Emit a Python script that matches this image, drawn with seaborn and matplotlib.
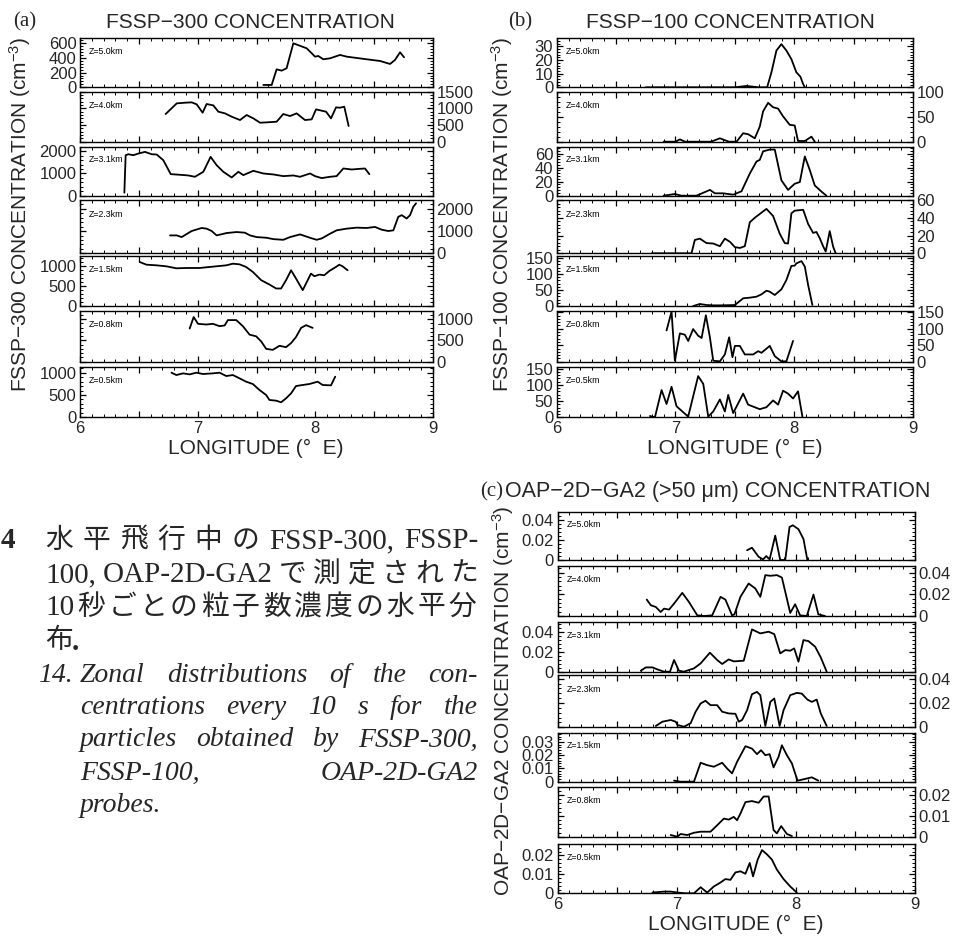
import numpy as np
import pandas as pd
import matplotlib
matplotlib.use("Agg")
import matplotlib.pyplot as plt
import seaborn as sns
from matplotlib.ticker import MultipleLocator, AutoMinorLocator, FixedLocator, FuncFormatter

# ---------------- data (longitude in deg E, concentration) ----------------
levels = ["Z=5.0km", "Z=4.0km", "Z=3.1km", "Z=2.3km", "Z=1.5km", "Z=0.8km", "Z=0.5km"]

# (a) FSSP-300 (cm^-3)
a_z50_lon = [7.558, 7.629, 7.671, 7.714, 7.756, 7.813, 7.926, 7.969, 7.997, 8.025, 8.068, 8.125, 8.210, 8.266, 8.436, 8.550, 8.635, 8.677, 8.720, 8.754]
a_z50_val = [32, 32, 245, 227, 260, 600, 532, 464, 418, 427, 382, 395, 441, 418, 382, 359, 318, 373, 477, 409]
a_z40_lon = [6.728, 6.822, 6.892, 6.949, 6.992, 7.042, 7.076, 7.133, 7.176, 7.232, 7.289, 7.360, 7.416, 7.473, 7.530, 7.586, 7.671, 7.728, 7.785, 7.841, 7.912, 7.969, 8.006, 8.054, 8.091, 8.133, 8.176, 8.210, 8.246, 8.283]
a_z40_val = [830, 1150, 1170, 1180, 1120, 870, 1130, 1090, 900, 850, 750, 650, 800, 700, 570, 580, 600, 830, 770, 850, 650, 670, 970, 930, 900, 700, 1030, 1020, 1050, 470]
a_z31_lon = [6.377, 6.388, 6.411, 6.453, 6.496, 6.552, 6.609, 6.652, 6.708, 6.771, 6.850, 6.921, 6.977, 7.048, 7.110, 7.161, 7.218, 7.289, 7.346, 7.388, 7.473, 7.558, 7.643, 7.728, 7.813, 7.870, 7.955, 7.997, 8.054, 8.125, 8.181, 8.238, 8.309, 8.380, 8.422, 8.459]
a_z31_val = [134, 1818, 1862, 1818, 1892, 1967, 1862, 1848, 1594, 968, 939, 909, 849, 1073, 1743, 1371, 1073, 819, 1073, 924, 1118, 998, 954, 879, 909, 849, 998, 879, 790, 849, 879, 1222, 1177, 1207, 1222, 968]
a_z23_lon = [6.765, 6.822, 6.864, 6.949, 7.034, 7.076, 7.119, 7.161, 7.246, 7.331, 7.402, 7.445, 7.501, 7.586, 7.643, 7.728, 7.785, 7.870, 7.955, 8.011, 8.054, 8.125, 8.181, 8.266, 8.351, 8.436, 8.507, 8.564, 8.620, 8.663, 8.705, 8.734, 8.776, 8.805, 8.833, 8.856]
a_z23_val = [806, 806, 730, 1003, 1140, 1110, 1003, 806, 912, 958, 927, 806, 730, 699, 638, 608, 730, 851, 699, 608, 669, 882, 1034, 1110, 1155, 1140, 1186, 1064, 1003, 1034, 1642, 1718, 1566, 1718, 2098, 2250]
a_z15_lon = [6.508, 6.565, 6.650, 6.734, 6.819, 6.904, 7.017, 7.158, 7.243, 7.299, 7.356, 7.412, 7.469, 7.540, 7.610, 7.667, 7.709, 7.751, 7.794, 7.836, 7.893, 7.963, 7.992, 8.034, 8.076, 8.119, 8.175, 8.203, 8.232, 8.274]
a_z15_val = [1108, 1041, 1025, 1000, 950, 958, 958, 1000, 1025, 1066, 1050, 983, 858, 650, 541, 441, 441, 650, 900, 691, 400, 816, 750, 791, 775, 883, 983, 1041, 1000, 900]
a_z08_lon = [6.932, 6.966, 7.003, 7.073, 7.130, 7.186, 7.229, 7.257, 7.328, 7.384, 7.441, 7.497, 7.540, 7.582, 7.638, 7.695, 7.751, 7.794, 7.836, 7.879, 7.921, 7.977]
a_z08_val = [778, 1048, 889, 873, 889, 834, 850, 977, 977, 834, 635, 596, 476, 302, 278, 373, 341, 437, 580, 794, 858, 794]
a_z05_lon = [6.777, 6.819, 6.876, 6.932, 6.989, 7.045, 7.130, 7.186, 7.243, 7.299, 7.356, 7.412, 7.469, 7.525, 7.582, 7.610, 7.667, 7.709, 7.751, 7.794, 7.836, 7.893, 7.949, 8.020, 8.062, 8.133, 8.169]
a_z05_val = [1000, 947, 985, 962, 1000, 970, 985, 1000, 925, 947, 873, 798, 746, 612, 500, 388, 373, 336, 425, 537, 701, 724, 746, 798, 724, 716, 910]

# (b) FSSP-100 (cm^-3)
b_z50_lon = [6.75, 7.5, 7.598, 7.70, 7.772, 7.808, 7.850, 7.892, 7.934, 7.976, 8.018, 8.052, 8.075, 8.089]
b_z50_val = [0, 0, 1, 0, 0, 11, 27, 31.7, 27, 20.7, 11, 7.8, 2.4, 0]
b_z40_lon = [6.9, 7.0, 7.037, 7.08, 7.30, 7.374, 7.45, 7.514, 7.570, 7.612, 7.668, 7.710, 7.738, 7.780, 7.822, 7.864, 7.906, 7.962, 8.004, 8.032, 8.089, 8.145, 8.173]
b_z40_val = [0, 0, 4.7, 0, 0, 6.8, 0, 0, 16.9, 14.9, 6.8, 30.4, 60.8, 77.7, 68.9, 66.2, 50.7, 33.8, 32.4, 1.4, 1.4, 10.1, 0]
b_z31_lon = [6.9, 6.995, 7.05, 7.177, 7.290, 7.332, 7.402, 7.486, 7.556, 7.626, 7.682, 7.710, 7.738, 7.794, 7.836, 7.892, 7.948, 8.004, 8.047, 8.089, 8.131, 8.173, 8.229, 8.271]
b_z31_val = [0, 2.4, 0, 0, 8.3, 3.4, 3.4, 1.5, 6.3, 31.7, 48.8, 51.2, 63.4, 65.9, 65.9, 22, 8.3, 17.1, 19.5, 56.1, 36.6, 14.6, 5.9, 0]
b_z23_lon = [6.8, 7.135, 7.163, 7.205, 7.262, 7.318, 7.374, 7.416, 7.458, 7.500, 7.542, 7.584, 7.626, 7.668, 7.766, 7.822, 7.878, 7.920, 7.948, 7.976, 8.004, 8.075, 8.117, 8.159, 8.187, 8.215, 8.243, 8.265, 8.299, 8.327, 8.349]
b_z23_val = [0, 0, 15, 16.5, 11.5, 11, 8, 16.5, 13, 7, 6, 8, 35, 40, 50, 42, 22, 11.5, 11, 45, 48, 49, 33, 23, 24, 17, 8, 2, 25, 7.7, 0]
b_z15_lon = [7.149, 7.205, 7.262, 7.318, 7.374, 7.500, 7.570, 7.626, 7.682, 7.724, 7.766, 7.794, 7.836, 7.892, 7.934, 7.976, 8.004, 8.018, 8.061, 8.089, 8.117, 8.153]
b_z15_val = [0, 6.2, 3.1, 2, 2, 3, 24, 26, 29, 36.4, 47.8, 44.7, 34.3, 52, 81, 125, 126, 133, 140, 123, 65.5, 3]
b_z08_lon = [6.925, 6.967, 6.995, 7.037, 7.079, 7.107, 7.149, 7.191, 7.220, 7.256, 7.290, 7.318, 7.374, 7.416, 7.452, 7.480, 7.500, 7.542, 7.584, 7.654, 7.696, 7.724, 7.794, 7.836, 7.892, 7.934, 7.990]
b_z08_val = [95, 152, 3, 86, 82, 63, 99, 79, 72, 141, 74, 3, 1, 22, 74, 13.5, 48, 48, 22, 22, 32, 27, 48, 17, 1, 1, 63]
b_z05_lon = [6.785, 6.827, 6.883, 6.925, 6.967, 7.009, 7.107, 7.191, 7.234, 7.276, 7.318, 7.374, 7.416, 7.444, 7.486, 7.570, 7.612, 7.710, 7.766, 7.822, 7.864, 7.906, 7.948, 7.990, 8.032, 8.069]
b_z05_val = [4, 0, 84, 41, 94, 34, 2, 127, 103, 2, 18, 55, 18, 69, 13, 73, 39, 25, 31, 52, 39, 82, 73, 58, 80, 2]

# (c) OAP-2D-GA2 >50 um (cm^-3)
c_z50_lon = [7.591, 7.632, 7.688, 7.724, 7.752, 7.780, 7.827, 7.869, 7.911, 7.947, 7.975, 8.022, 8.064, 8.097]
c_z50_val = [0.0097, 0.0122, 0.0032, 0.0006, 0.0039, 0.0006, 0.0242, 0.0, 0.0, 0.0328, 0.0345, 0.0306, 0.0209, 0.0]
c_z40_lon = [6.749, 6.783, 6.825, 6.866, 6.894, 6.936, 6.978, 7.047, 7.103, 7.173, 7.228, 7.298, 7.368, 7.409, 7.465, 7.485, 7.535, 7.604, 7.660, 7.702, 7.744, 7.786, 7.841, 7.883, 7.953, 7.994, 8.036, 8.092, 8.148, 8.189, 8.245]
c_z40_val = [0.0151, 0.0099, 0.0083, 0.0037, 0.0068, 0.0059, 0.0114, 0.0213, 0.0129, 0.0006, 0.0, 0.0006, 0.0176, 0.0151, 0.0006, 0.0015, 0.0176, 0.0299, 0.0253, 0.0176, 0.0376, 0.0370, 0.0376, 0.0354, 0.0028, 0.0108, 0.0006, 0.0, 0.0197, 0.0015, 0.0]
c_z31_lon = [6.699, 6.741, 6.797, 6.838, 6.894, 6.944, 6.978, 7.019, 7.061, 7.103, 7.145, 7.201, 7.279, 7.340, 7.382, 7.437, 7.479, 7.563, 7.632, 7.702, 7.772, 7.819, 7.869, 7.911, 7.953, 7.986, 8.022, 8.064, 8.106, 8.162, 8.209, 8.259]
c_z31_val = [0.001, 0.0043, 0.0043, 0.0023, 0.0, 0.0, 0.0117, 0.001, 0.0, 0.0017, 0.0033, 0.0083, 0.019, 0.0117, 0.0077, 0.0123, 0.0103, 0.011, 0.0423, 0.0383, 0.040, 0.0376, 0.0183, 0.0216, 0.021, 0.0233, 0.010, 0.0316, 0.0306, 0.025, 0.0143, 0.0]
c_z23_lon = [6.825, 6.880, 6.950, 6.992, 7.006, 7.061, 7.117, 7.159, 7.201, 7.242, 7.284, 7.340, 7.382, 7.437, 7.493, 7.521, 7.549, 7.591, 7.632, 7.674, 7.702, 7.744, 7.786, 7.819, 7.864, 7.897, 7.953, 8.008, 8.050, 8.097, 8.134, 8.175, 8.209, 8.259]
c_z23_val = [0.0011, 0.0046, 0.006, 0.0046, 0.0019, 0.0005, 0.0033, 0.0128, 0.0196, 0.0218, 0.0182, 0.0182, 0.0128, 0.0114, 0.0111, 0.0046, 0.006, 0.0141, 0.0272, 0.0291, 0.0264, 0.0011, 0.0209, 0.0237, 0.0011, 0.0141, 0.0264, 0.0283, 0.0277, 0.0228, 0.0209, 0.0228, 0.0114, 0.0011]
c_z15_lon = [6.978, 7.033, 7.145, 7.201, 7.256, 7.312, 7.382, 7.423, 7.465, 7.507, 7.577, 7.632, 7.674, 7.708, 7.744, 7.780, 7.813, 7.855, 7.883, 7.925, 7.967, 8.014, 8.064, 8.134, 8.189]
c_z15_val = [0.0008, 0.0, 0.0, 0.0143, 0.0125, 0.0113, 0.0143, 0.010, 0.0063, 0.015, 0.0268, 0.025, 0.0208, 0.0238, 0.020, 0.0208, 0.0108, 0.0188, 0.0275, 0.020, 0.0138, 0.0008, 0.0018, 0.0033, 0.0008]
c_z08_lon = [6.950, 7.006, 7.033, 7.089, 7.145, 7.201, 7.284, 7.340, 7.396, 7.437, 7.479, 7.507, 7.535, 7.577, 7.632, 7.688, 7.730, 7.772, 7.813, 7.841, 7.877, 7.925, 7.967]
c_z08_val = [0.0008, 0.0, 0.0013, 0.0008, 0.0019, 0.0024, 0.0024, 0.0055, 0.0087, 0.0082, 0.0095, 0.0079, 0.0111, 0.0166, 0.0171, 0.0163, 0.0193, 0.0193, 0.0032, 0.0016, 0.0051, 0.0013, 0.0003]
c_z05_lon = [6.797, 6.894, 6.950, 7.006, 7.075, 7.145, 7.201, 7.256, 7.312, 7.368, 7.409, 7.451, 7.493, 7.535, 7.577, 7.613, 7.641, 7.680, 7.716, 7.758, 7.799, 7.841, 7.897, 7.953, 8.008]
c_z05_val = [0.0004, 0.0009, 0.0009, 0.0004, 0.0, 0.0, 0.0032, 0.0004, 0.0036, 0.0057, 0.0075, 0.0071, 0.011, 0.0116, 0.0103, 0.016, 0.0089, 0.0178, 0.0228, 0.0205, 0.0178, 0.0125, 0.0075, 0.0036, 0.0004]

# y-axis tick labels per row
a_yticks = [[0, 200, 400, 600], [0, 500, 1000, 1500], [0, 1000, 2000], [0, 1000, 2000],
            [0, 500, 1000], [0, 500, 1000], [0, 500, 1000]]
b_yticks = [[0, 10, 20, 30], [0, 50, 100], [0, 20, 40, 60], [0, 20, 40, 60],
            [0, 50, 100, 150], [0, 50, 100, 150], [0, 50, 100, 150]]
c_yticks = [[0, 0.02, 0.04], [0, 0.02, 0.04], [0, 0.02, 0.04], [0, 0.02, 0.04],
            [0, 0.01, 0.02, 0.03], [0, 0.01, 0.02], [0, 0.01, 0.02]]
x_ticklabels = [6, 7, 8, 9]

a_series = [(a_z50_lon, a_z50_val), (a_z40_lon, a_z40_val), (a_z31_lon, a_z31_val), (a_z23_lon, a_z23_val),
            (a_z15_lon, a_z15_val), (a_z08_lon, a_z08_val), (a_z05_lon, a_z05_val)]
b_series = [(b_z50_lon, b_z50_val), (b_z40_lon, b_z40_val), (b_z31_lon, b_z31_val), (b_z23_lon, b_z23_val),
            (b_z15_lon, b_z15_val), (b_z08_lon, b_z08_val), (b_z05_lon, b_z05_val)]
c_series = [(c_z50_lon, c_z50_val), (c_z40_lon, c_z40_val), (c_z31_lon, c_z31_val), (c_z23_lon, c_z23_val),
            (c_z15_lon, c_z15_val), (c_z08_lon, c_z08_val), (c_z05_lon, c_z05_val)]

# ---------------- style / layout ----------------
sns.set_style("white")
plt.rcParams['font.family'] = ['Liberation Sans', 'DejaVu Sans']
plt.rcParams['mathtext.default'] = 'regular'

W, H = 955, 936
fig = plt.figure(figsize=(W / 100, H / 100), dpi=100)
fig.patch.set_facecolor('white')

a_ylims = [668, 1500, 2200, 2400, 1260, 1190, 1134]
b_ylims = [36, 100, 70, 60, 156, 154, 156]
c_ylims = [0.048, 0.046, 0.05, 0.043, 0.037, 0.024, 0.026]

ab_tops = [38.3, 91.7, 146.7, 200.0, 256.0, 311.0, 366.7]
ab_bots = [87.3, 141.7, 195.7, 253.3, 306.0, 361.7, 417.3]
c_tops = [511.7, 566.0, 621.7, 675.0, 732.7, 786.7, 844.0]
c_bots = [560.0, 616.0, 671.7, 727.3, 781.7, 836.7, 893.3]

TICK_FS = 12


def fmt_y(v, pos=None):
    if v == 0:
        return "0"
    if abs(v) < 1:
        return ("%.2f" % v)
    return "%d" % v


def draw_panel(left, right, tops, bots, series, yticks, ylims):
    axes = []
    for i, ((lon, val), yt, ymax) in enumerate(zip(series, yticks, ylims)):
        ax = fig.add_axes([left / W, 1 - bots[i] / H, (right - left) / W, (bots[i] - tops[i]) / H])
        df = pd.DataFrame({"lon": lon, "val": val})
        sns.lineplot(data=df, x="lon", y="val", ax=ax, color="black", linewidth=1.3,
                     estimator=None, sort=False, legend=False)
        ax.set_xlim(6, 9)
        ax.set_ylim(0, ymax)
        ax.set_xlabel("")
        ax.set_ylabel("")
        ax.set_facecolor("white")
        for s in ax.spines.values():
            s.set_visible(True)
            s.set_color("black")
            s.set_linewidth(1.0)
        ax.xaxis.set_major_locator(MultipleLocator(0.5))
        ax.xaxis.set_minor_locator(MultipleLocator(0.1))
        ax.yaxis.set_major_locator(FixedLocator(yt))
        ax.yaxis.set_minor_locator(AutoMinorLocator(5))
        ax.yaxis.set_major_formatter(FuncFormatter(fmt_y))
        ax.tick_params(which='both', direction='in', top=True, bottom=True, left=True, right=True,
                       color='black')
        ax.tick_params(which='major', length=4, width=0.9)
        ax.tick_params(which='minor', length=2, width=0.7)
        on_left = (i % 2 == 0)
        ax.tick_params(axis='y', labelleft=on_left, labelright=not on_left, labelsize=TICK_FS,
                       pad=2.5)
        if i == len(series) - 1:
            ax.xaxis.set_major_formatter(FuncFormatter(
                lambda v, p: ("%d" % v) if abs(v - round(v)) < 1e-6 and int(round(v)) in x_ticklabels else ""))
            ax.tick_params(axis='x', labelbottom=True, labelsize=TICK_FS, pad=3)
        else:
            ax.tick_params(axis='x', labelbottom=False)
        ax.text(0.025, 0.73, levels[i], transform=ax.transAxes, fontsize=6.3,
                va='center', ha='left', color='black')
        axes.append(ax)
    return axes


draw_panel(80, 433, ab_tops, ab_bots, a_series, a_yticks, a_ylims)
draw_panel(556.7, 913, ab_tops, ab_bots, b_series, b_yticks, b_ylims)
draw_panel(557.5, 915, c_tops, c_bots, c_series, c_yticks, c_ylims)


def ftext(x, y, s, **kw):
    return fig.text(x / W, 1 - y / H, s, **kw)


TITLE_FS = 15
SERIF = ['Liberation Serif', 'DejaVu Serif']

# panel titles
ftext(13, 22, "(a)", fontsize=15, family=SERIF, va='center', ha='left')
ftext(250, 22, "FSSP\u2212300 CONCENTRATION", fontsize=TITLE_FS, va='center', ha='center')
ftext(508, 22, "(b)", fontsize=15, family=SERIF, va='center', ha='left')
ftext(730, 22, "FSSP\u2212100 CONCENTRATION", fontsize=TITLE_FS, va='center', ha='center')
ftext(480, 492, "(c)", fontsize=15, family=SERIF, va='center', ha='left')
ftext(505, 492, "OAP\u22122D\u2212GA2 (>50 \u03bcm) CONCENTRATION", fontsize=15.5, va='center', ha='left')

# y labels
ftext(20, 214, "FSSP\u2212300 CONCENTRATION (cm$^{-3}$)", fontsize=TITLE_FS, rotation=90,
      va='center', ha='center')
ftext(502, 214, "FSSP\u2212100 CONCENTRATION (cm$^{-3}$)", fontsize=TITLE_FS, rotation=90,
      va='center', ha='center')
ftext(503, 701, "OAP\u22122D\u2212GA2 CONCENTRATION (cm$^{-3}$)", fontsize=TITLE_FS, rotation=90,
      va='center', ha='center')

# x labels
ftext(256, 448, "LONGITUDE (\u00b0  E)", fontsize=TITLE_FS, va='center', ha='center')
ftext(735, 448, "LONGITUDE (\u00b0  E)", fontsize=TITLE_FS, va='center', ha='center')
ftext(736, 924, "LONGITUDE (\u00b0  E)", fontsize=TITLE_FS, va='center', ha='center')

# ---------------- caption ----------------
JP_FS = 20
LAT_FS = 21
EN_FS = 20
JP = ['Liberation Serif', 'Noto Sans CJK JP']
renderer = fig.canvas.get_renderer()


def is_cjk(t):
    return any(ord(ch) > 0x2E80 for ch in t)


def justify(tokens, x0, x1, y, latin_fs=LAT_FS, **kw):
    texts = []
    for t in tokens:
        fs = JP_FS if is_cjk(t) else latin_fs
        texts.append(ftext(x0, y, t, va='center', ha='left', fontsize=fs, **kw))
    widths = [t.get_window_extent(renderer).width for t in texts]
    gap = (x1 - x0 - sum(widths)) / max(len(tokens) - 1, 1)
    x = x0
    for t, w in zip(texts, widths):
        t.set_x(x / W)
        x += w + gap


ftext(1, 541, "4", fontsize=LAT_FS, family=SERIF, weight='bold', va='center', ha='left')
justify(['水', '平', '飛', '行', '中', 'の', 'FSSP-300,', 'FSSP-'], 45, 478, 541, family=JP)
justify(['100,', 'OAP-2D-GA2', 'で', '測', '定', 'さ', 'れ', 'た'], 45, 478, 575, family=JP)
justify(['10', '秒', 'ご', 'と', 'の', '粒', '子', '数', '濃', '度', 'の', '水', '平', '分'], 45, 476, 608, family=JP)
ftext(45, 641, "布", fontsize=JP_FS, family=JP, va='center', ha='left')
ftext(72, 643, ".", fontsize=LAT_FS, family=SERIF, weight='bold', va='center', ha='left')

ftext(38, 675, "14.", fontsize=EN_FS, family=SERIF, style='italic', va='center', ha='left')
justify(['Zonal', 'distributions', 'of', 'the', 'con-'], 80, 478, 675, latin_fs=EN_FS,
        family=SERIF, style='italic')
justify(['centrations', 'every', '10', 's', 'for', 'the'], 80, 478, 708, latin_fs=EN_FS,
        family=SERIF, style='italic')
justify(['particles', 'obtained', 'by', 'FSSP-300,'], 80, 478, 740, latin_fs=EN_FS,
        family=SERIF, style='italic')
justify(['FSSP-100,', 'OAP-2D-GA2'], 80, 478, 773, latin_fs=EN_FS, family=SERIF, style='italic')
ftext(80, 806, "probes.", fontsize=EN_FS, family=SERIF, style='italic', va='center', ha='left')

fig.savefig("out.png", dpi=100, facecolor='white')
